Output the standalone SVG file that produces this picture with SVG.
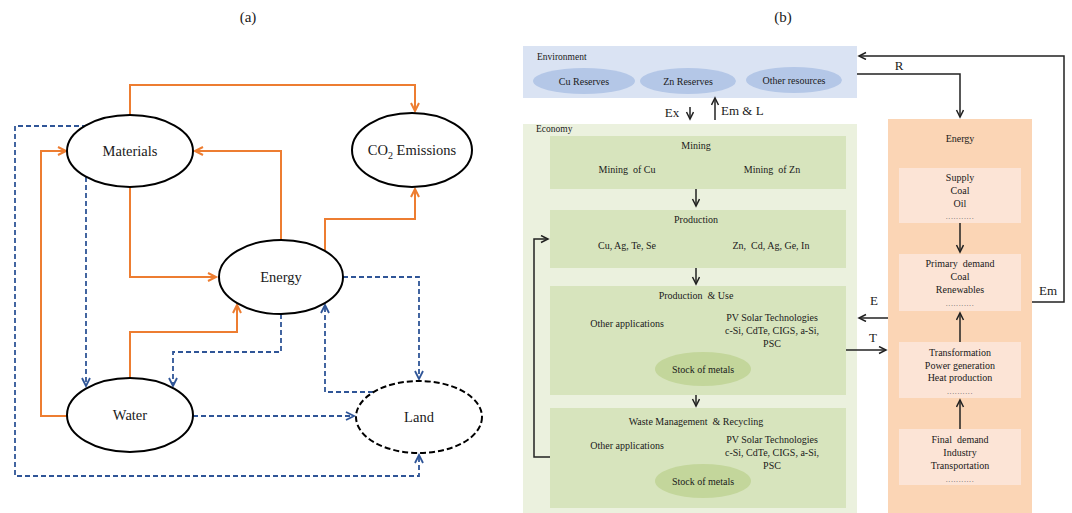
<svg xmlns="http://www.w3.org/2000/svg" width="1072" height="513" viewBox="0 0 1072 513">
<style>
text{font-family:"Liberation Serif","Times New Roman",serif;fill:#1a1a1a;white-space:pre}
.lbl{font-size:14.5px;text-anchor:middle}
.sm{font-size:10px;text-anchor:middle}
.cl{font-size:13px;text-anchor:middle}
.hd{font-size:9.5px}
.dots{font-size:8px;text-anchor:middle;fill:#666;letter-spacing:0.6px}
.node{fill:#fff;stroke:#000;stroke-width:2}
.or{fill:none;stroke:#ED7D31;stroke-width:2}
.bl{fill:none;stroke:#2F5597;stroke-width:1.8;stroke-dasharray:5,3}
.bk{fill:none;stroke:#222;stroke-width:1.5}
.sub{fill:#D7E4BD}
.esub{fill:#FCE4D6}
</style>
<defs>
<marker id="ao" markerUnits="userSpaceOnUse" markerWidth="12" markerHeight="12" refX="9" refY="5" orient="auto"><path d="M1,1 L9,5 L1,9" fill="none" stroke="#ED7D31" stroke-width="2"/></marker>
<marker id="ab" markerUnits="userSpaceOnUse" markerWidth="12" markerHeight="12" refX="9" refY="5" orient="auto"><path d="M1,1 L9,5 L1,9" fill="none" stroke="#2F5597" stroke-width="1.8"/></marker>
<marker id="ak" markerUnits="userSpaceOnUse" markerWidth="10" markerHeight="10" refX="8" refY="4" orient="auto"><path d="M1,0.5 L8,4 L1,7.5" fill="none" stroke="#222" stroke-width="1.5"/></marker>
</defs>
<rect width="1072" height="513" fill="#fff"/>
<text x="248" y="22" class="lbl" style="font-size:15px">(a)</text>
<text x="783" y="22" class="lbl" style="font-size:15px">(b)</text>

<!-- Panel (a) connectors -->
<g id="connectors-a">
<path class="or" d="M130,115 V85 H415 V111" marker-end="url(#ao)"/>
<path class="or" d="M130,187 V277 H216" marker-end="url(#ao)"/>
<path class="or" d="M281,240 V151 H195" marker-end="url(#ao)"/>
<path class="or" d="M325,250 V219 H415 V189" marker-end="url(#ao)"/>
<path class="or" d="M68,416 H41 V151 H66" marker-end="url(#ao)"/>
<path class="or" d="M130,379 V332 H237 V305" marker-end="url(#ao)"/>
<path class="bl" d="M87,126 H15 V476 H419 V455" marker-end="url(#ab)"/>
<path class="bl" d="M86,177 V386" marker-end="url(#ab)"/>
<path class="bl" d="M281,314 V352 H173 V386" marker-end="url(#ab)"/>
<path class="bl" d="M343,277 H419 V379" marker-end="url(#ab)"/>
<path class="bl" d="M373,392 H325 V305" marker-end="url(#ab)"/>
<path class="bl" d="M193,416 H354" marker-end="url(#ab)"/>
</g>

<g id="materials"><ellipse class="node" cx="130" cy="151" rx="63" ry="36"/><text class="lbl" x="130" y="156">Materials</text></g>
<g id="co2"><ellipse class="node" cx="412" cy="150" rx="60" ry="37"/><text class="lbl" x="412" y="155">CO<tspan font-size="10" dy="4">2</tspan><tspan dy="-4"> Emissions</tspan></text></g>
<g id="energy-a"><ellipse class="node" cx="281" cy="277" rx="62" ry="37"/><text class="lbl" x="281" y="282">Energy</text></g>
<g id="water"><ellipse class="node" cx="130" cy="415" rx="63" ry="37"/><text class="lbl" x="130" y="420">Water</text></g>
<g id="land"><ellipse class="node" cx="419" cy="417" rx="63" ry="36" stroke-dasharray="6,3"/><text class="lbl" x="419" y="422">Land</text></g>

<!-- Panel (b) -->
<g id="environment">
<rect x="523" y="46" width="334" height="52" fill="#DAE3F3"/>
<text class="hd" x="537" y="60">Environment</text>
<ellipse cx="584" cy="81" rx="51" ry="13" fill="#B4C7E7"/><text class="sm" x="584" y="84.5">Cu Reserves</text>
<ellipse cx="688" cy="81" rx="48" ry="13" fill="#B4C7E7"/><text class="sm" x="688" y="85">Zn Reserves</text>
<ellipse cx="794" cy="80" rx="48" ry="13" fill="#B4C7E7"/><text class="sm" x="794" y="83.5">Other resources</text>
</g>
<g id="economy">
<rect x="523" y="124" width="334" height="389" fill="#EBF1DE"/>
<text class="hd" x="536" y="132">Economy</text>
</g>
<g id="mining">
<rect class="sub" x="550" y="136" width="296" height="53"/>
<text class="sm" x="696" y="149">Mining</text>
<text class="sm" x="627" y="173">Mining  of Cu</text>
<text class="sm" x="772" y="173">Mining  of Zn</text>
</g>
<g id="production">
<rect class="sub" x="550" y="210" width="296" height="58"/>
<text class="sm" x="696" y="223">Production</text>
<text class="sm" x="627" y="249">Cu, Ag, Te, Se</text>
<text class="sm" x="771" y="249">Zn,  Cd, Ag, Ge, In</text>
</g>
<g id="production-use">
<rect class="sub" x="550" y="286" width="296" height="109"/>
<text class="sm" x="696" y="299">Production  &amp; Use</text>
<text class="sm" x="627" y="327">Other applications</text>
<text class="sm" x="772" y="321">PV Solar Technologies</text>
<text class="sm" x="772" y="334">c-Si, CdTe, CIGS, a-Si,</text>
<text class="sm" x="772" y="347">PSC</text>
<ellipse cx="703" cy="369" rx="48" ry="17" fill="#C3D69B"/><text class="sm" x="703" y="372.5">Stock of metals</text>
</g>
<g id="waste">
<rect class="sub" x="550" y="408" width="296" height="100"/>
<text class="sm" x="696" y="425">Waste Management  &amp; Recycling</text>
<text class="sm" x="627" y="449">Other applications</text>
<text class="sm" x="772" y="443">PV Solar Technologies</text>
<text class="sm" x="772" y="456">c-Si, CdTe, CIGS, a-Si,</text>
<text class="sm" x="772" y="469">PSC</text>
<ellipse cx="703" cy="481" rx="48" ry="17" fill="#C3D69B"/><text class="sm" x="703" y="484.5">Stock of metals</text>
</g>
<g id="energy-b">
<rect x="888" y="119" width="144" height="394" fill="#FBD5B5"/>
<text class="sm" x="960" y="142">Energy</text>
<rect class="esub" x="899" y="168" width="122" height="55"/>
<text class="sm" x="960" y="181">Supply</text><text class="sm" x="960" y="194">Coal</text><text class="sm" x="960" y="207">Oil</text><text class="dots" x="960" y="219">...........</text>
<rect class="esub" x="899" y="254" width="122" height="57"/>
<text class="sm" x="960" y="267">Primary  demand</text><text class="sm" x="960" y="280">Coal</text><text class="sm" x="960" y="293">Renewables</text><text class="dots" x="960" y="306">...........</text>
<rect class="esub" x="899" y="342" width="122" height="56"/>
<text class="sm" x="960" y="356">Transformation</text><text class="sm" x="960" y="369">Power generation</text><text class="sm" x="960" y="381">Heat production</text><text class="dots" x="960" y="394">..........</text>
<rect class="esub" x="899" y="429" width="122" height="56"/>
<text class="sm" x="960" y="443">Final  demand</text><text class="sm" x="960" y="456">Industry</text><text class="sm" x="960" y="469">Transportation</text><text class="dots" x="960" y="482">...........</text>
</g>

<g id="connectors-b">
<path class="bk" d="M690,107 V119" marker-end="url(#ak)"/>
<path class="bk" d="M715,120 V98" marker-end="url(#ak)"/>
<text class="cl" x="672" y="117">Ex</text>
<text x="721" y="115" style="font-size:13px">Em &amp; L</text>
<path class="bk" d="M696,189 V206" marker-end="url(#ak)"/>
<path class="bk" d="M696,268 V284" marker-end="url(#ak)"/>
<path class="bk" d="M696,395 V406" marker-end="url(#ak)"/>
<path class="bk" d="M550,457 H534 V239 H548" marker-end="url(#ak)"/>
<path class="bk" d="M960,223 V252" marker-end="url(#ak)"/>
<path class="bk" d="M960,342 V313" marker-end="url(#ak)"/>
<path class="bk" d="M960,429 V400" marker-end="url(#ak)"/>
<path class="bk" d="M857,74 H960 V117" marker-end="url(#ak)"/>
<text class="cl" x="899" y="70">R</text>
<path class="bk" d="M1032,302 H1064 V56 H859" marker-end="url(#ak)"/>
<text class="cl" x="1048" y="295">Em</text>
<path class="bk" d="M888,318 H859" marker-end="url(#ak)"/>
<text class="cl" x="874" y="305">E</text>
<path class="bk" d="M846,350 H886" marker-end="url(#ak)"/>
<text class="cl" x="873" y="342">T</text>
</g>
</svg>
